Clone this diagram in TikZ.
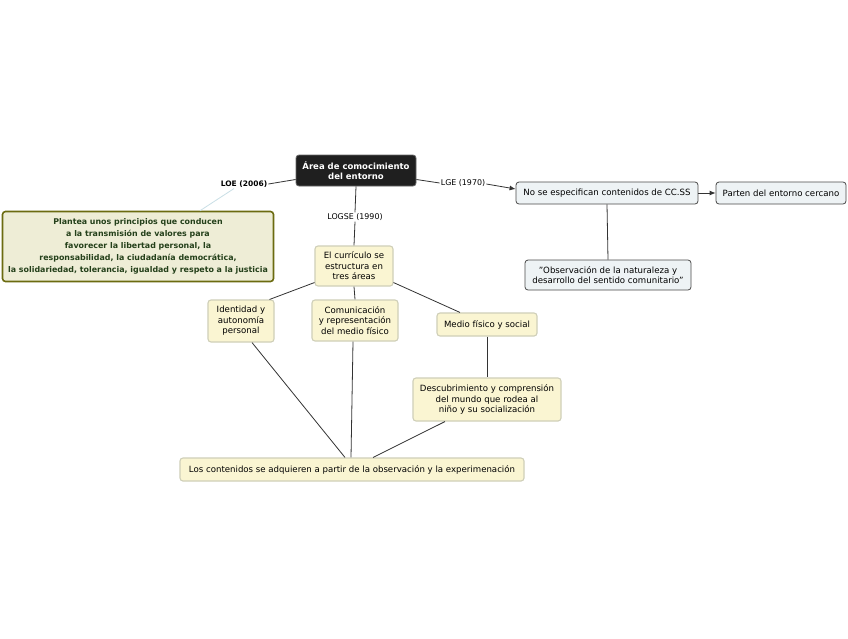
\documentclass[tikz,border=0pt]{standalone}
\usepackage{fontspec}
\setmainfont{DejaVu Sans}
\usetikzlibrary{arrows.meta}
\definecolor{yfill}{HTML}{FAF5D2}
\definecolor{yborder}{HTML}{CFCFB8}
\definecolor{bfill}{HTML}{EEF3F5}
\definecolor{bborder}{HTML}{4A4A4A}
\definecolor{gfill}{HTML}{EEEDD6}
\definecolor{gborder}{HTML}{6B6B10}
\definecolor{gtext}{HTML}{24401A}
\definecolor{lblue}{HTML}{C9DFE6}
\definecolor{edge}{HTML}{333333}
\tikzset{
  base/.style={rounded corners=3pt, align=center, inner sep=1pt, font=\fontsize{8.6}{10.5}\selectfont},
  ybox/.style={base, fill=yfill, draw=yborder, line width=1.1pt},
  bbox/.style={base, fill=bfill, draw=bborder, line width=0.8pt},
  cbox/.style={base, fill=black!88, draw=black!60, line width=0.8pt, text=white, font=\fontsize{8.5}{10.5}\selectfont\bfseries},
  gbox/.style={base, fill=gfill, draw=gborder, line width=1.6pt, text=gtext, font=\fontsize{7.9}{12}\selectfont\bfseries},
  lbl/.style={inner sep=1pt, font=\fontsize{7.9}{9.5}\selectfont},
  conn/.style={draw=edge, line width=0.8pt},
  arr/.style={conn, -{Latex[length=6pt,width=5pt]}}
}
\begin{document}
\begin{tikzpicture}[x=1pt,y=-1pt]
\useasboundingbox (0,0) rectangle (848,638);
\fill[white] (0,0) rectangle (848,638);
\node[cbox, minimum width=120pt, minimum height=31pt] (c) at (356,170.5) {Área de comocimiento\\del entorno};
\node[lbl, font=\fontsize{7.5}{9}\selectfont\bfseries] (loe) at (244,184) {LOE (2006)};
\node[gbox, minimum width=271pt, minimum height=70pt] (g) at (138,246.5) {Plantea unos principios que conducen\\a la transmisión de valores para\\favorecer la libertad personal, la\\responsabilidad, la ciudadanía democrática,\\la solidariedad, tolerancia, igualdad y respeto a la justicia};
\node[lbl] (logse) at (355,217) {LOGSE (1990)};
\node[ybox, minimum width=78pt, minimum height=40pt] (cur) at (354,266) {El currículo se\\estructura en\\tres áreas};
\node[ybox, minimum width=66pt, minimum height=42pt] (id) at (241,321) {Identidad y\\autonomía\\personal};
\node[ybox, minimum width=86pt, minimum height=41pt] (com) at (355,320.5) {Comunicación\\y representación\\del medio físico};
\node[ybox, minimum width=100pt, minimum height=23pt] (med) at (487,324.5) {Medio físico y social};
\node[ybox, minimum width=148pt, minimum height=43pt] (des) at (487,399.5) {Descubrimiento y comprensión\\del mundo que rodea al\\niño y su socialización};
\node[ybox, minimum width=344pt, minimum height=23pt] (los) at (352,469.5) {Los contenidos se adquieren a partir de la observación y la experimenación};
\node[lbl] (lge) at (463,183) {LGE (1970)};
\node[bbox, minimum width=182pt, minimum height=22pt] (no) at (607,193) {No se especifican contenidos de CC.SS};
\node[bbox, minimum width=130pt, minimum height=22pt] (par) at (781,193) {Parten del entorno cercano};
\node[bbox, minimum width=166pt, minimum height=30pt] (obs) at (608,275) {"Observación de la naturaleza y\\desarrollo del sentido comunitario"};
% connectors
\draw[conn] ([yshift=-9pt]c.west) -- (loe.east);
\draw[draw=lblue, line width=0.8pt] ([xshift=-10pt]loe.south) -- ([xshift=62pt]g.north);
\draw[conn] (c.south) -- (logse.north);
\draw[conn] (logse.south) -- (cur.north);
\draw[conn] ([yshift=-9pt]c.east) -- (lge.west);
\draw[arr] ([yshift=-1pt]lge.east) -- ([yshift=4pt]no.west);
\draw[arr] (no.east) -- (par.west);
\draw[conn] (no.south) -- (obs.north);
\draw[conn] ([yshift=4pt]cur.south west) -- ([xshift=-5pt]id.north east);
\draw[conn] (cur.south) -- (com.north);
\draw[conn] ([yshift=4pt]cur.south east) -- ([xshift=-27pt]med.north);
\draw[conn] ([xshift=11pt]id.south) -- ([xshift=-7pt]los.north);
\draw[conn] ([xshift=-2pt]com.south) -- ([xshift=-1pt]los.north);
\draw[conn] (med.south) -- (des.north);
\draw[conn] ([xshift=-42pt]des.south) -- ([xshift=21pt]los.north);
\end{tikzpicture}
\end{document}
